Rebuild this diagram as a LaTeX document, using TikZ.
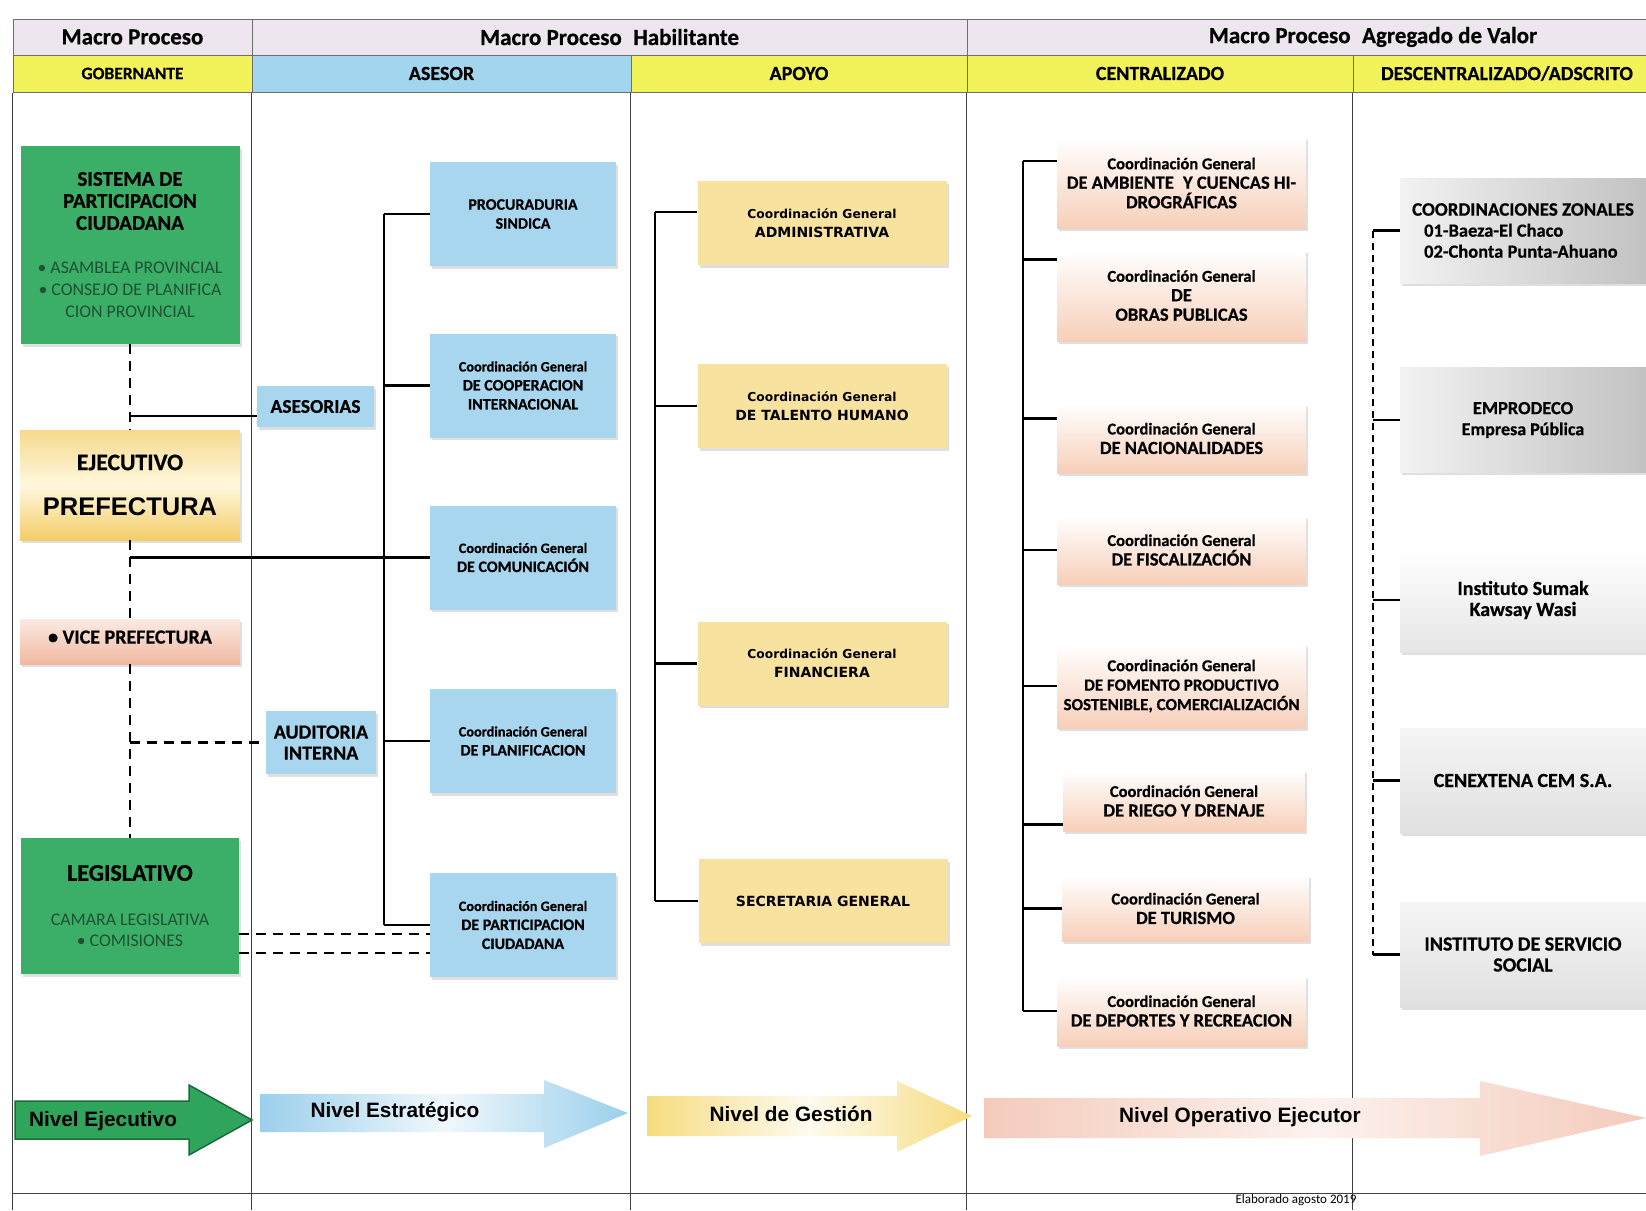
\documentclass[tikz,border=0pt]{standalone}
\usepackage{fontspec}
\IfFontExistsTF{Carlito Bold}
  {\setmainfont{Carlito}[BoldFont={Carlito Bold}, BoldFeatures={FakeBold=0.6}]}
  {\setmainfont{Carlito}[AutoFakeBold=2.5]}
\newfontfamily\arialf{Liberation Sans}
\newfontfamily\verdf{DejaVu Sans}
\usetikzlibrary{calc, shadows}
\newcommand{\sz}[2]{\fontsize{#1}{#2}\selectfont}
\newcommand{\nb}{\mdseries\color{grntxt}\sz{17.8}{21}}
\newcommand{\cgb}{\sz{14.3}{19}Coordinación General}
\newcommand{\cga}{\sz{12.3}{19}Coordinación General}
\newcommand{\cgp}{\sz{16.5}{19.5}Coordinación General}

\definecolor{hdrgray}{HTML}{EEE6EF}
\definecolor{hdryel}{HTML}{F2F25A}
\definecolor{hdrblue}{HTML}{A2D5EE}
\definecolor{hline}{HTML}{6E6E6E}
\definecolor{grn}{HTML}{3BAE67}
\definecolor{grntxt}{HTML}{1E5233}
\definecolor{lblue}{HTML}{A8D6EF}
\definecolor{lyel}{HTML}{F8E2A0}
\definecolor{peach}{HTML}{F7CFB9}
\definecolor{salmon}{HTML}{F1B8A0}
\definecolor{gold}{HTML}{F3CD68}
\definecolor{cream}{HTML}{FFF8DE}
\definecolor{arrgrn}{HTML}{2EA55B}
\definecolor{arrgrnd}{HTML}{1C6A39}
\definecolor{arrblue}{HTML}{9BCFEC}
\definecolor{arryel}{HTML}{F6DC80}
\definecolor{arrpch}{HTML}{F4CBBB}

\tikzset{
  hdr/.style={draw=hline, line width=1pt, inner sep=0pt, font=\bfseries\sz{20}{22}},
  tline/.style={draw=black!75, line width=1pt},
  box/.style={rectangle, align=center, inner sep=2pt, font=\bfseries,
    drop shadow={opacity=0.25, shadow xshift=2pt, shadow yshift=-2.5pt}},
  grnbox/.style={box, fill=grn},
  bluebox/.style={box, fill=lblue, minimum width=186pt, minimum height=104pt, font=\bfseries\sz{16}{19}},
  yelbox/.style={box, fill=lyel, minimum width=249pt, minimum height=84pt, font=\verdf\bfseries\sz{14}{19}},
  pchbox/.style={box, top color=white, bottom color=peach, minimum width=249pt, font=\bfseries\sz{18.5}{19.5}},
  graybox/.style={box, minimum width=246pt, minimum height=105pt, font=\bfseries\sz{20}{21}},
  lnk/.style={line width=2.6pt},
  dsh/.style={line width=2.8pt, dash pattern=on 10pt off 7pt},
  arrlbl/.style={font=\arialf\bfseries\sz{20.8}{22}}
}

\begin{document}
\begin{tikzpicture}[x=1pt, y=-1pt]
\useasboundingbox (0,0) rectangle (1646,1210);
\fill[white] (0,0) rectangle (1646,1210);
\clip (0,0) rectangle (1646,1210);

\node[hdr, fill=hdrgray, minimum width=239pt, minimum height=36pt, font=\bfseries\sz{23}{24}] (mpg) at (132.5,37) {Macro Proceso};
\node[hdr, fill=hdrgray, minimum width=715pt, minimum height=36pt, font=\bfseries\sz{23}{24}] (mph) at (609.5,37) {Macro Proceso\enspace Habilitante};
\node[hdr, fill=hdrgray, minimum width=812pt, minimum height=36pt, font=\bfseries\sz{23}{24}] (mpa) at (1373,37) {Macro Proceso\enspace Agregado de Valor};
\node[hdr, fill=hdryel, minimum width=239pt, minimum height=37pt, font=\bfseries\sz{17.5}{20}] (hgob) at (132.5,73.5) {GOBERNANTE};
\node[hdr, fill=hdrblue, minimum width=379pt, minimum height=37pt] (hase) at (441.5,73.5) {ASESOR};
\node[hdr, fill=hdryel, minimum width=336pt, minimum height=37pt] (hapo) at (799,73.5) {APOYO};
\node[hdr, fill=hdryel, minimum width=386pt, minimum height=37pt] (hcen) at (1160,73.5) {CENTRALIZADO};
\node[hdr, fill=hdryel, minimum width=308pt, minimum height=37pt] (hdes) at (1507,73.5) {DESCENTRALIZADO/ADSCRITO};
\foreach \c in {hgob.south west, hase.south west, hapo.south west, hcen.south west, hdes.south west}
  \draw[tline] (\c) -- (\c |- 0,1210);
\draw[tline] (13,1193) -- (1646,1193);

\node[grnbox, minimum width=219pt, minimum height=198pt, font=\bfseries\sz{21}{22}] (sis) at (130,245)
  {SISTEMA DE\\PARTICIPACION\\CIUDADANA\\[22pt]\nb • ASAMBLEA PROVINCIAL\\\nb • CONSEJO DE PLANIFICA\\\nb CION PROVINCIAL};
\node[box, top color=gold!75, bottom color=gold, middle color=cream, minimum width=220pt, minimum height=110pt,
  font=\bfseries\sz{23.7}{26}] (eje) at (130,485) {EJECUTIVO\\[19pt]\arialf\sz{25.5}{28}PREFECTURA};
\node[box, top color=salmon!30, bottom color=salmon, minimum width=220pt, minimum height=45pt, text depth=9pt,
  font=\bfseries\sz{20}{22}] (vice) at (130,641.5) {• VICE PREFECTURA};
\node[grnbox, minimum width=218pt, minimum height=136pt, font=\bfseries\sz{24}{21}] (leg) at (130,906)
  {LEGISLATIVO\\[24pt]\nb CAMARA LEGISLATIVA\\\nb • COMISIONES};

\node[box, fill=lblue, minimum width=117pt, minimum height=41pt, font=\bfseries\sz{19.5}{22}] (ase) at (315.5,406.5) {ASESORIAS};
\node[box, fill=lblue, minimum width=110pt, minimum height=63pt, font=\bfseries\sz{20}{21}] (aud) at (321,742.5) {AUDITORIA\\INTERNA};
\node[bluebox] (pro) at (523,214) {PROCURADURIA\\SINDICA};
\node[bluebox] (coo) at (523,385.5) {\cgb\\DE COOPERACION\\INTERNACIONAL};
\node[bluebox] (com) at (523,557.5) {\cgb\\DE COMUNICACIÓN};
\node[bluebox] (pla) at (523,741) {\cgb\\DE PLANIFICACION};
\node[bluebox] (par) at (523,925) {\cgb\\DE PARTICIPACION\\CIUDADANA};

\node[yelbox] (adm) at (822,223) {\cga\\ADMINISTRATIVA};
\node[yelbox] (tal) at (822,406) {\cga\\DE TALENTO HUMANO};
\node[yelbox] (fin) at (822,663.5) {\cga\\FINANCIERA};
\node[yelbox] (sec) at (823,901) {SECRETARIA GENERAL};

\node[pchbox, minimum height=91pt] (amb) at (1181.5,183) {\cgp\\DE AMBIENTE\enspace Y CUENCAS HI-\\DROGRÁFICAS};
\node[pchbox, minimum height=91pt] (obr) at (1181.5,295.5) {\cgp\\DE\\OBRAS PUBLICAS};
\node[pchbox, minimum height=69pt] (nac) at (1181.5,438.5) {\cgp\\DE NACIONALIDADES};
\node[pchbox, minimum height=68pt] (fis) at (1181.5,550) {\cgp\\DE FISCALIZACIÓN};
\node[pchbox, minimum height=84pt] (fom) at (1181.5,686)
  {\cgp\\\sz{17}{19.5}DE FOMENTO PRODUCTIVO\\\sz{17}{19.5}SOSTENIBLE, COMERCIALIZACIÓN};
\node[pchbox, minimum width=242pt, minimum height=61pt] (rie) at (1184,801) {\cgp\\DE RIEGO Y DRENAJE};
\node[pchbox, minimum width=247pt, minimum height=66pt] (tur) at (1185.5,908.5) {\cgp\\DE TURISMO};
\node[pchbox, minimum height=70pt] (dep) at (1181.5,1011) {\cgp\\DE DEPORTES Y RECREACION};

\node[graybox, left color=black!5, right color=black!24, align=left] (zon) at (1523,230.5)
  {\sz{19}{21}COORDINACIONES ZONALES\\\hspace*{12pt}\sz{18.5}{21}01-Baeza-El Chaco\\\hspace*{12pt}\sz{18.5}{21}02-Chonta Punta-Ahuano};
\node[graybox, left color=black!5, right color=black!24] (emp) at (1523,420) {\sz{18.5}{21}EMPRODECO\\\sz{18}{21}Empresa Pública};
\node[graybox, top color=white, bottom color=black!10] (sum) at (1523,600) {Instituto Sumak\\Kawsay Wasi};
\node[graybox, top color=black!4, bottom color=black!12] (cen) at (1523,780.5) {CENEXTENA CEM S.A.};
\node[graybox, top color=black!4, bottom color=black!12] (ser) at (1523,954.5) {INSTITUTO DE SERVICIO\\SOCIAL};

\draw[dsh] (sis.south) -- (eje.north);
\draw[dsh] (eje.south) -- (vice.north);
\draw[dsh] (vice.south) -- (leg.north);
\draw[lnk] (eje.north |- ase.189) -- (ase.189);
\draw[lnk] (eje.south |- com.west) -- (com.west);
\draw[dsh] (vice.south |- aud.west) -- (aud.west);
\coordinate (l1) at ($(leg.east)+(0,28)$);
\coordinate (l2) at ($(leg.east)+(0,47)$);
\draw[dsh] (l1) -- (l1 -| par.west);
\draw[dsh] (l2) -- (l2 -| par.west);

\coordinate (t2) at (384,0);
\draw[lnk] (t2 |- pro.west) -- (t2 |- par.west);
\foreach \n in {pro,coo,pla,par}
  \draw[lnk] (t2 |- \n.west) -- (\n.west);

\coordinate (t3) at (655,0);
\draw[lnk] (t3 |- adm.175) -- (t3 |- sec.west);
\foreach \n in {adm.175,tal.west,fin.west,sec.west}
  \draw[lnk] (t3 |- \n) -- (\n);

\coordinate (t4) at (1023,0);
\draw[lnk] (t4 |- amb.170) -- (t4 |- dep.west);
\foreach \n in {amb.170,obr.164,nac.171,fis.west,fom.west,rie.191,tur.west,dep.west}
  \draw[lnk] (t4 |- \n) -- (\n);

\coordinate (t5) at (1373,0);
\draw[line width=2.4pt, dash pattern=on 7pt off 5pt] (t5 |- zon.west) -- (t5 |- ser.west);
\foreach \n in {zon,emp,sum,cen,ser}
  \draw[lnk] (t5 |- \n.west) -- (\n.west);

\fill[arrgrn, draw=arrgrnd, line width=1.5pt] (15,1101) -- (189,1101) -- (189,1085) -- (252,1120)
  -- (189,1155) -- (189,1139) -- (15,1139) -- cycle;
\path[left color=arrblue, right color=arrblue, middle color=arrblue!15] (260,1094) -- (544,1094) -- (544,1080)
  -- (628,1113) -- (544,1148) -- (544,1132) -- (260,1132) -- cycle;
\path[left color=arryel, right color=arryel, middle color=arryel!12] (647,1096) -- (897,1096) -- (897,1081)
  -- (972,1116) -- (897,1152) -- (897,1136) -- (647,1136) -- cycle;
\path[left color=arrpch, right color=arrpch, middle color=arrpch!25] (984,1098) -- (1480,1098) -- (1480,1081)
  -- (1646,1118) -- (1480,1156) -- (1480,1138) -- (984,1138) -- cycle;
\node[arrlbl] (nej) at (103,1121) {Nivel Ejecutivo};
\node[arrlbl] (nes) at (395,1112) {Nivel Estratégico};
\node[arrlbl] (nge) at (791,1114) {Nivel de Gestión};
\node[arrlbl] (nop) at (1240,1117) {Nivel Operativo Ejecutor};
\node[font=\sz{13}{14}] (ela) at (1296,1200) {Elaborado agosto 2019};
\end{tikzpicture}
\end{document}
